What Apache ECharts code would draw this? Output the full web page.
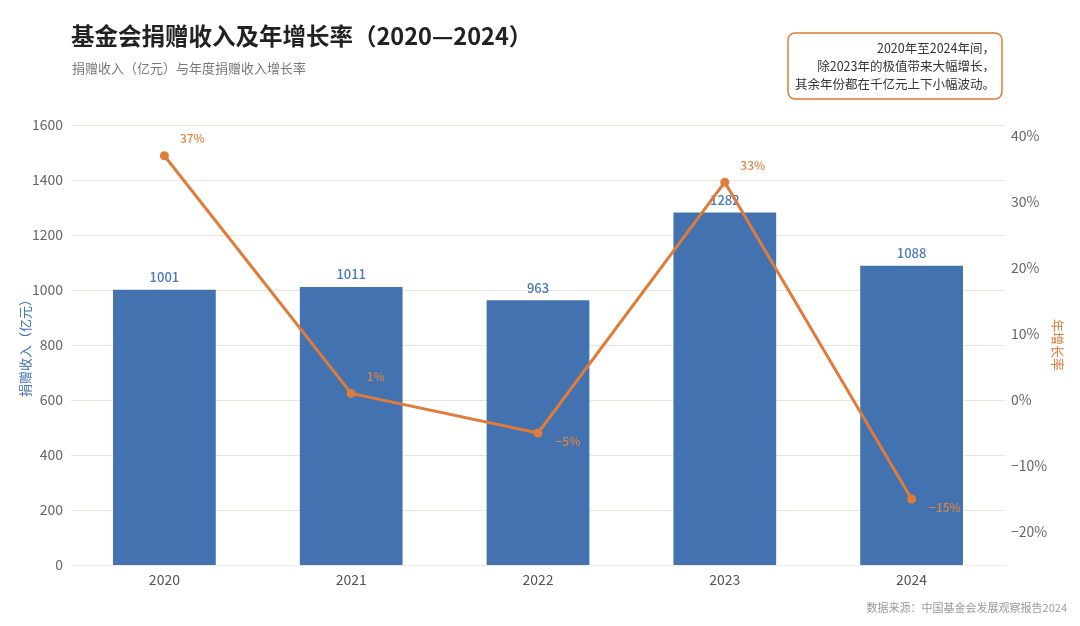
<!DOCTYPE html>
<html>
<head>
<meta charset="utf-8">
<script src="https://cdn.jsdelivr.net/npm/echarts@6/dist/echarts.min.js"></script>
<style>
  html, body { margin: 0; padding: 0; background: #fff; }
  #main { width: 1080px; height: 626px; }
</style>
</head>
<body>
<div id="main"></div>
<script>
// 年份
var years = ['2020', '2021', '2022', '2023', '2024'];
// 捐赠收入（亿元）
var income = [1001, 1011, 963, 1282, 1088];
// 年增长率（%）
var growth = [37, 1, -5, 33, -15];
// 右轴刻度
var rateTicks = [-20, -10, 0, 10, 20, 30, 40];
var noteLines = ['2020年至2024年间，', '除2023年的极值带来大幅增长，', '其余年份都在千亿元上下小幅波动。'];

var fontCN = '"Noto Sans CJK SC", "Noto Sans", sans-serif';
var blue = '#4272af';
var orange = '#e07b39';

var chart = echarts.init(document.getElementById('main'));

var option = {
  textStyle: { fontFamily: fontCN },
  animation: false,
  title: [
    {
      text: '基金会捐赠收入及年增长率（2020—2024）',
      left: 66, top: 19,
      textStyle: { fontSize: 23.5, fontWeight: 'bold', color: '#222', fontFamily: fontCN }
    },
    {
      text: '捐赠收入（亿元）与年度捐赠收入增长率',
      left: 67, top: 57,
      textStyle: { fontSize: 13, fontWeight: 'normal', color: '#777', fontFamily: fontCN }
    },
    {
      text: '数据来源：中国基金会发展观察报告2024',
      right: 8, top: 597,
      textStyle: { fontSize: 11, fontWeight: 'normal', color: '#9a9a9a', fontFamily: fontCN }
    }
  ],
  graphic: [
    {
      type: 'rect',
      shape: { x: 788, y: 33, width: 214, height: 66, r: 7 },
      style: { fill: '#fff', stroke: orange, lineWidth: 1.5 }
    },
    {
      type: 'text',
      x: 995, y: 39,
      style: {
        text: noteLines.join('\n'),
        align: 'right',
        fontSize: 12.5,
        lineHeight: 18,
        fill: '#333',
        fontFamily: fontCN
      }
    }
  ],
  grid: { left: 71, right: 75, top: 125, bottom: 61, outerBoundsMode: 'none' },
  xAxis: {
    type: 'category',
    data: years,
    axisLine: { show: true, lineStyle: { color: '#f0ebe6' } },
    axisTick: { show: false },
    axisLabel: { color: '#555', fontSize: 14, margin: 8 }
  },
  yAxis: [
    {
      type: 'value',
      min: 0, max: 1600, interval: 200,
      name: '捐赠收入（亿元）',
      nameLocation: 'middle',
      nameGap: 39,
      nameMoveOverlap: false,
      nameTextStyle: { color: blue, fontSize: 13 },
      axisLine: { show: false },
      axisTick: { show: false },
      axisLabel: {
        color: '#666', fontSize: 14, margin: 8,
        formatter: function (v) { return String(v); }
      },
      splitLine: { lineStyle: { color: '#ebe4da', width: 1 } }
    },
    {
      type: 'value',
      min: -25, max: 125 / 3,
      name: '年增长率',
      nameLocation: 'middle',
      nameGap: 46,
      nameRotate: -90,
      nameMoveOverlap: false,
      nameTextStyle: { color: orange, fontSize: 13 },
      axisLine: { show: false },
      axisTick: { show: false },
      splitLine: { show: false },
      axisLabel: {
        customValues: rateTicks,
        color: '#666', fontSize: 14, margin: 6,
        formatter: function (v) { return (v < 0 ? '\u2212' + (-v) : v) + '%'; }
      }
    }
  ],
  series: [
    {
      type: 'bar',
      data: income,
      barWidth: '55%',
      itemStyle: { color: blue },
      label: {
        show: true, position: 'top', distance: 6,
        color: '#4a78b8', fontSize: 13, fontWeight: 500
      },
      z: 2
    },
    {
      type: 'line',
      yAxisIndex: 1,
      data: growth.map(function (v) {
        return {
          value: v,
          label: { offset: v >= 0 ? [6, -17] : [8, 8] }
        };
      }),
      symbol: 'circle',
      symbolSize: 9,
      itemStyle: { color: orange },
      lineStyle: { color: orange, width: 3 },
      label: {
        show: true, position: 'right', distance: 5,
        color: '#e0833f', fontSize: 12, fontWeight: 500,
        formatter: function (p) { return (p.value < 0 ? '\u2212' + (-p.value) : p.value) + '%'; }
      },
      z: 5
    }
  ]
};

chart.setOption(option);
</script>
</body>
</html>
